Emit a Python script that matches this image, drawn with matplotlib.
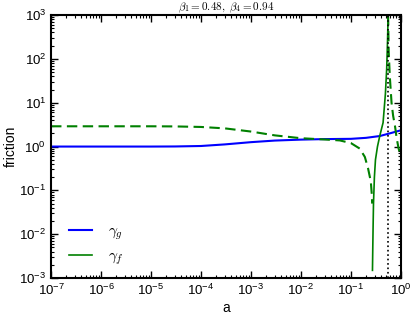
import numpy as np
import matplotlib
matplotlib.use('Agg')
import matplotlib.pyplot as plt
from matplotlib.ticker import FixedLocator, FuncFormatter, NullFormatter

# values
a_g = [1e-7, 1e-6, 1e-5, 3e-5, 1e-4, 3e-4, 1e-3, 3e-3, 1e-2, 3e-2, 0.1, 0.2, 0.38, 0.6, 1.0]
gamma_g = [1.0, 1.0, 1.0, 1.005, 1.03, 1.12, 1.26, 1.37, 1.44, 1.48, 1.5, 1.58, 1.74, 2.0, 2.35]

# gamma_f, solid branch (rises from the dip up to the pole)
a_f = [0.27, 0.274, 0.278, 0.283, 0.295, 0.31, 0.34, 0.38, 0.44, 0.49, 0.52, 0.54, 0.556]
gamma_f = [0.0015, 0.005, 0.015, 0.05, 0.2, 0.5, 1.0, 1.8, 3.5, 16, 60, 250, 1000]

# dashed curve, two branches either side of the pole
a_d1 = [1e-7, 1e-6, 1e-5, 3e-5, 1e-4, 3e-4, 1e-3, 3e-3, 1e-2, 3e-2, 0.06, 0.1, 0.15, 0.19, 0.22, 0.25, 0.262, 0.266]
gamma_d1 = [2.9, 2.9, 2.9, 2.88, 2.8, 2.6, 2.2, 1.8, 1.55, 1.45, 1.38, 1.2, 0.9, 0.58, 0.32, 0.16, 0.08, 0.05]
a_d2 = [0.555, 0.57, 0.60, 0.65, 0.70, 0.76, 0.82, 0.9, 1.0]
gamma_d2 = [1000, 150, 40, 10, 5, 3.0, 1.6, 0.9, 0.58]

a_pole = 0.557
beta1 = 0.48
beta4 = 0.94

x_exp = np.arange(-7, 1)   # decades shown on x
y_exp = np.arange(-3, 4)   # decades shown on y

plt.rcParams['font.family'] = 'Liberation Sans'
plt.rcParams['mathtext.fontset'] = 'cm'

def logfmt(v, pos):
    e = int(np.round(np.log10(v)))
    return r'$\mathregular{10^{%d}}$' % e

def minors(exps):
    out = []
    for e in exps[:-1]:
        out += [m * 10.0**e for m in range(2, 10)]
    return out

fig = plt.figure(figsize=(4.15, 3.2), dpi=100)
ax = fig.add_axes([0.123, 0.131, 0.843, 0.822])

ax.plot(a_g, gamma_g, color='#0000ff', lw=1.5, label=r'$\gamma_g$')
ax.plot(a_f, gamma_f, color='#008000', lw=1.2, label=r'$\gamma_f$')
ax.plot(a_d1, gamma_d1, color='#008000', lw=1.5, ls='--', dashes=(5, 2.6))
ax.plot(a_d2, gamma_d2, color='#008000', lw=1.5, ls='--', dashes=(5, 2.6))
ax.axvline(a_pole, color='k', ls=':', lw=1.2)

ax.set_xscale('log')
ax.set_yscale('log')
ax.set_xlim(10.0**x_exp[0], 10.0**x_exp[-1])
ax.set_ylim(10.0**y_exp[0], 10.0**y_exp[-1])

for axis, exps in [(ax.xaxis, x_exp), (ax.yaxis, y_exp)]:
    axis.set_major_locator(FixedLocator(10.0**exps))
    axis.set_minor_locator(FixedLocator(minors(exps)))
    axis.set_major_formatter(FuncFormatter(logfmt))
    axis.set_minor_formatter(NullFormatter())

ax.tick_params(which='both', direction='in', top=True, right=True, labelsize=9.5)
ax.tick_params(which='major', length=5, width=1)
ax.tick_params(which='minor', length=2.5, width=0.8)
for s in ax.spines.values():
    s.set_linewidth(1.5)

ax.set_xlabel('a', fontsize=10, labelpad=2)
ax.set_ylabel('friction', fontsize=10, labelpad=1)
ax.set_title(r'$\beta_1=%.2f,\ \beta_4=%.2f$' % (beta1, beta4), fontsize=8, pad=3)

ax.legend(loc='lower left', frameon=False, fontsize=11, handlelength=1.5,
          handletextpad=1.0, labelspacing=0.45, borderaxespad=0,
          bbox_to_anchor=(0.035, 0.02))

fig.savefig('out.png', dpi=100)
